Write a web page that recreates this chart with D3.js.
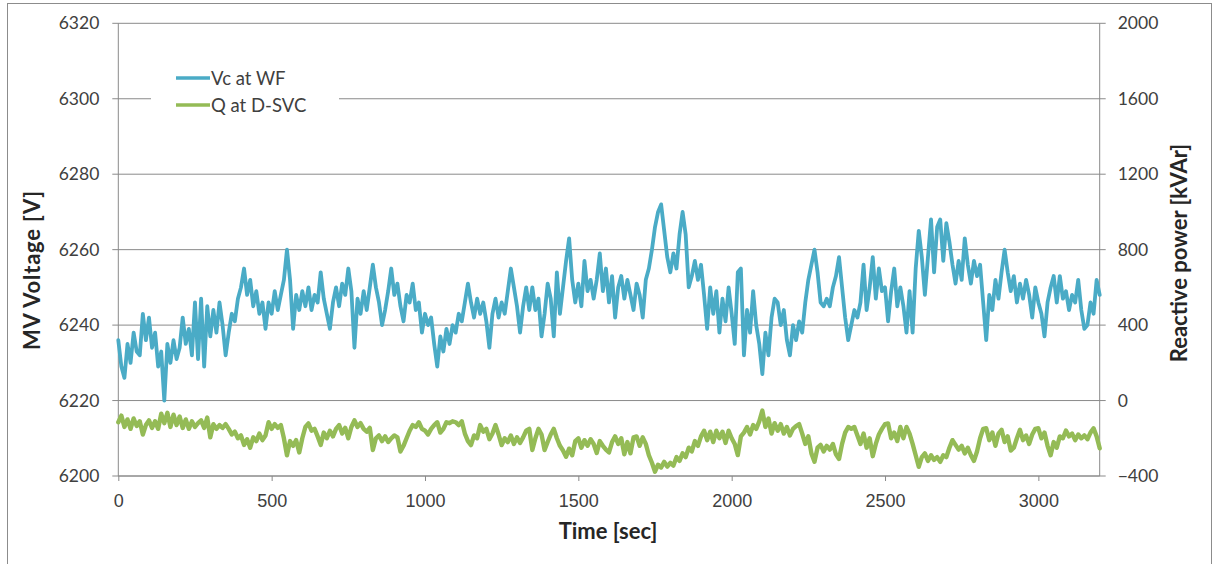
<!DOCTYPE html>
<html>
<head>
<meta charset="utf-8">
<script src="https://cdn.jsdelivr.net/npm/d3@7"></script>
<style>
  html, body { margin: 0; padding: 0; background: #fff; }
  svg { display: block; }
</style>
</head>
<body>
<svg id="chart" width="1218" height="564"></svg>
<script>
// Sampling interval of both recorded series (seconds)
const timeStep = 10;

// Axis ticks
const timeTicks = [0, 500, 1000, 1500, 2000, 2500, 3000];
const voltageTicks = [6200, 6220, 6240, 6260, 6280, 6300, 6320];
const reactiveTicks = [-400, 0, 400, 800, 1200, 1600, 2000];

const seriesNames = ["Vc at WF", "Q at D-SVC"];

// MV voltage at the wind farm [V], one value per timeStep from t = 0
const vcAtWF = [
  6236, 6229, 6226, 6235, 6230, 6238, 6233, 6232, 6243, 6236,
  6242, 6234, 6238, 6229, 6233, 6220, 6235, 6230, 6236, 6231,
  6234, 6242, 6235, 6239, 6232, 6246, 6231, 6247, 6229, 6245,
  6237, 6244, 6238, 6246, 6240, 6232, 6238, 6243, 6241, 6247,
  6250, 6255, 6248, 6252, 6245, 6249, 6243, 6246, 6239, 6246,
  6243, 6249, 6244, 6248, 6252, 6260, 6252, 6239, 6248, 6244,
  6249, 6245, 6250, 6244, 6248, 6246, 6254, 6247, 6243, 6239,
  6246, 6250, 6245, 6251, 6248, 6255, 6249, 6234, 6247, 6243,
  6249, 6244, 6250, 6256, 6250, 6246, 6240, 6244, 6249, 6255,
  6248, 6251, 6245, 6241, 6248, 6246, 6251, 6244, 6246, 6238,
  6243, 6240, 6242, 6235, 6229, 6237, 6233, 6239, 6235, 6240,
  6238, 6243, 6241, 6246, 6251, 6246, 6242, 6247, 6243, 6246,
  6241, 6234, 6243, 6247, 6242, 6246, 6243, 6249, 6255, 6250,
  6245, 6238, 6245, 6250, 6244, 6250, 6244, 6247, 6237, 6243,
  6251, 6247, 6237, 6254, 6243, 6250, 6257, 6263, 6252, 6246,
  6251, 6245, 6257, 6249, 6252, 6247, 6252, 6259, 6249, 6255,
  6246, 6253, 6242, 6250, 6253, 6247, 6252, 6248, 6244, 6251,
  6248, 6242, 6252, 6255, 6260, 6266, 6270, 6272, 6265, 6258,
  6254, 6259, 6255, 6264, 6270, 6264, 6250, 6253, 6257, 6252,
  6256, 6248, 6239, 6250, 6243, 6249, 6238, 6247, 6241, 6250,
  6243, 6235, 6254, 6255, 6232, 6244, 6238, 6249, 6240, 6235,
  6227, 6238, 6232, 6242, 6247, 6246, 6240, 6244, 6236, 6232,
  6240, 6236, 6241, 6238, 6246, 6252, 6256, 6260, 6254, 6246,
  6245, 6247, 6245, 6250, 6253, 6258, 6250, 6242, 6236, 6240,
  6244, 6242, 6246, 6256, 6244, 6250, 6258, 6247, 6255, 6249,
  6250, 6241, 6249, 6255, 6245, 6250, 6245, 6238, 6249, 6238,
  6255, 6265, 6258, 6248, 6258, 6268, 6254, 6266, 6268, 6257,
  6267, 6262, 6256, 6251, 6257, 6252, 6263, 6256, 6251, 6257,
  6253, 6256, 6246, 6236, 6248, 6244, 6252, 6247, 6254, 6260,
  6254, 6249, 6253, 6246, 6251, 6247, 6252, 6248, 6242, 6250,
  6246, 6243, 6237, 6246, 6250, 6253, 6246, 6253, 6247, 6249,
  6244, 6248, 6246, 6252, 6244, 6239, 6240, 6246, 6243, 6252,
  6248
];

// Reactive power delivered by the D-SVC [kVAr], one value per timeStep from t = 0
const qAtDSVC = [
  -115, -80, -140, -100, -150, -95, -135, -110, -180, -130,
  -105, -145, -110, -150, -70, -120, -65, -140, -75, -130,
  -85, -145, -100, -150, -110, -140, -120, -105, -145, -90,
  -195, -125, -150, -130, -145, -125, -150, -180, -165, -200,
  -185, -235, -205, -250, -195, -215, -175, -210, -185, -115,
  -150, -125, -145, -130, -200, -290, -215, -240, -210, -275,
  -200, -140, -121, -160, -150, -190, -235, -170, -200, -160,
  -190, -150, -130, -175, -145, -200, -140, -105, -140, -120,
  -150, -165, -145, -262, -200, -185, -215, -190, -220, -200,
  -185, -195, -270, -240, -200, -160, -130, -140, -115, -150,
  -160, -180, -150, -130, -115, -170, -150, -115, -120, -110,
  -115, -130, -110, -175, -215, -236, -185, -200, -130, -165,
  -150, -205, -175, -130, -180, -236, -200, -220, -185, -230,
  -195, -225, -195, -160, -150, -262, -200, -150, -180, -262,
  -220, -180, -150, -200, -240, -265, -298, -255, -290, -215,
  -200, -250, -210, -240, -205, -230, -278, -215, -240, -260,
  -275, -220, -190, -230, -200, -285, -220, -280, -195, -190,
  -240, -195, -230, -290, -330, -377, -340, -355, -325, -350,
  -330, -345, -300, -320, -280, -300, -250, -270, -215, -240,
  -190, -160, -210, -165, -220, -160, -200, -165, -225, -160,
  -200, -230, -289, -190, -170, -140, -180, -130, -150, -110,
  -53, -140, -95, -175, -120, -160, -125, -175, -140, -185,
  -150, -135, -125, -175, -230, -190, -280, -324, -250, -235,
  -270, -240, -260, -230, -285, -310, -230, -170, -140, -150,
  -140, -185, -230, -175, -250, -200, -295, -230, -180, -150,
  -125, -121, -200, -170, -215, -140, -200, -140, -175, -230,
  -290, -351, -300, -280, -320, -290, -315, -300, -325, -290,
  -300, -250, -210, -235, -260, -240, -280, -250, -290, -320,
  -270, -200, -150, -147, -210, -170, -240, -175, -155, -220,
  -190, -265, -250, -200, -155, -210, -185, -230, -180, -150,
  -147, -200, -170, -240, -290, -220, -250, -190, -200, -159,
  -190, -175, -210, -180, -200, -185, -205, -170, -147, -190,
  -253
];

const colors = { vc: "#4aabc6", q: "#94bb56", axis: "#8a8a8a", text: "#404040" };
const tickFont = "Lato, 'Open Sans', sans-serif";
const xTickFont = "'Liberation Sans', Arial, sans-serif";

const svg = d3.select("#chart");
const plot = { left: 118.3, right: 1099.7, top: 23.3, bottom: 476 };

const x = d3.scaleLinear().domain([0, 3200]).range([plot.left, plot.right]);
const yV = d3.scaleLinear().domain([6200, 6320]).range([plot.bottom, plot.top]);
const yQ = d3.scaleLinear().domain([-400, 2000]).range([plot.bottom, plot.top]);

// outer frame
svg.append("rect")
  .attr("x", 7.5).attr("y", 3.5)
  .attr("width", 1204).attr("height", 570)
  .attr("fill", "#fff").attr("stroke", "#8c8c8c").attr("stroke-width", 1);

// horizontal gridlines (with the outward tick stubs on both sides)
svg.append("g").selectAll("line")
  .data(voltageTicks)
  .join("line")
  .attr("x1", plot.left - 6).attr("x2", plot.right + 6)
  .attr("y1", d => yV(d)).attr("y2", d => yV(d))
  .attr("stroke", colors.axis).attr("stroke-width", 1);

// vertical axis lines
svg.append("line")
  .attr("x1", plot.left).attr("x2", plot.left)
  .attr("y1", plot.top).attr("y2", plot.bottom)
  .attr("stroke", colors.axis);
svg.append("line")
  .attr("x1", plot.right).attr("x2", plot.right)
  .attr("y1", plot.top).attr("y2", plot.bottom)
  .attr("stroke", colors.axis);

// left axis labels
const leftAxis = svg.append("g")
  .attr("transform", `translate(${plot.left},0)`)
  .call(d3.axisLeft(yV).tickValues(voltageTicks).tickSize(0).tickPadding(19).tickFormat(d3.format("d")));
leftAxis.select(".domain").remove();
leftAxis.selectAll("text")
  .attr("font-family", tickFont).attr("font-size", 17.5).attr("fill", colors.text);

// right axis labels
const rightAxis = svg.append("g")
  .attr("transform", `translate(${plot.right},0)`)
  .call(d3.axisRight(yQ).tickValues(reactiveTicks).tickSize(0).tickPadding(18).tickFormat(d3.format("d")));
rightAxis.select(".domain").remove();
rightAxis.selectAll("text")
  .attr("font-family", tickFont).attr("font-size", 17.5).attr("fill", colors.text);

// bottom axis
const bottomAxis = svg.append("g")
  .attr("transform", `translate(0,${plot.bottom})`)
  .call(d3.axisBottom(x).tickValues(timeTicks).tickSize(5).tickPadding(13).tickFormat(d3.format("d")));
bottomAxis.select(".domain").remove();
bottomAxis.selectAll("line").attr("stroke", colors.axis);
bottomAxis.selectAll("text")
  .attr("font-family", xTickFont).attr("font-size", 18).attr("fill", colors.text);
svg.append("line")
  .attr("x1", plot.left).attr("x2", plot.right)
  .attr("y1", plot.bottom).attr("y2", plot.bottom)
  .attr("stroke", colors.axis);

// series
const tOf = i => i * timeStep;
const lineV = d3.line().x((d, i) => x(tOf(i))).y(d => yV(d));
const lineQ = d3.line().x((d, i) => x(tOf(i))).y(d => yQ(d));

svg.append("path").datum(qAtDSVC)
  .attr("d", lineQ).attr("fill", "none")
  .attr("stroke", colors.q).attr("stroke-width", 4.4)
  .attr("stroke-linejoin", "round").attr("stroke-linecap", "round");

svg.append("path").datum(vcAtWF)
  .attr("d", lineV).attr("fill", "none")
  .attr("stroke", colors.vc).attr("stroke-width", 3.8)
  .attr("stroke-linejoin", "round").attr("stroke-linecap", "round");

// legend
const legend = svg.append("g");
legend.append("rect")
  .attr("x", 151).attr("y", 64).attr("width", 188).attr("height", 56)
  .attr("fill", "#fff");
const legendItems = [
  { name: seriesNames[0], color: colors.vc, y: 78 },
  { name: seriesNames[1], color: colors.q, y: 105 }
];
legend.selectAll("g.item")
  .data(legendItems)
  .join("g").attr("class", "item")
  .each(function (d) {
    const g = d3.select(this);
    g.append("line")
      .attr("x1", 176).attr("x2", 210)
      .attr("y1", d.y).attr("y2", d.y)
      .attr("stroke", d.color).attr("stroke-width", 3.5);
    g.append("text")
      .attr("x", 211).attr("y", d.y)
      .attr("dy", "0.36em")
      .attr("font-family", tickFont).attr("font-size", 18.5)
      .attr("fill", colors.text)
      .text(d.name);
  });

// axis titles
const titleFont = { family: tickFont, size: 22, fill: "#262626" };

svg.append("text")
  .attr("transform", `translate(40,270) rotate(-90)`)
  .attr("text-anchor", "middle")
  .attr("font-family", titleFont.family).attr("font-weight", "bold").attr("font-size", titleFont.size)
  .attr("letter-spacing", 0.8)
  .attr("fill", titleFont.fill)
  .text("MV Voltage [V]");

svg.append("text")
  .attr("transform", `translate(1187,253) rotate(-90)`)
  .attr("text-anchor", "middle")
  .attr("font-family", titleFont.family).attr("font-weight", "bold").attr("font-size", titleFont.size)
  .attr("fill", titleFont.fill)
  .text("Reactive power [kVAr]");

svg.append("text")
  .attr("x", 608).attr("y", 539)
  .attr("text-anchor", "middle")
  .attr("font-family", titleFont.family).attr("font-weight", "bold").attr("font-size", titleFont.size)
  .attr("fill", titleFont.fill)
  .text("Time [sec]");
</script>
</body>
</html>
